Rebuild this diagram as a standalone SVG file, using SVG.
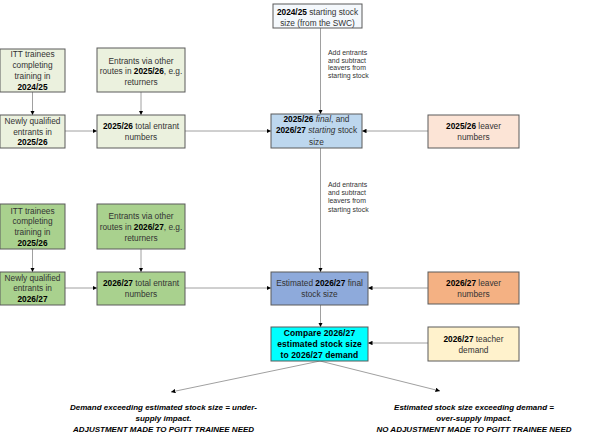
<svg xmlns="http://www.w3.org/2000/svg" width="602" height="441" viewBox="0 0 602 441">
<defs>
<marker id="ah" viewBox="0 0 10 10" refX="10" refY="5" markerWidth="4.5" markerHeight="4.5" orient="auto" markerUnits="userSpaceOnUse">
<path d="M0,0 L10,5 L0,10 z" fill="#000"/>
</marker>
<style>
.box{stroke:#5a5a5a;stroke-width:1}
.t{font-family:"Liberation Sans",Arial,sans-serif;font-size:8.3px;fill:#333;text-anchor:middle}
.t b, .b{font-weight:bold;fill:#000}
.lbl{font-family:"Liberation Sans",Arial,sans-serif;font-size:6.9px;fill:#333}
.cmp{font-family:"Liberation Sans",Arial,sans-serif;font-size:8.5px;font-weight:bold;fill:#000;text-anchor:middle;letter-spacing:0.1px}
.out{font-family:"Liberation Sans",Arial,sans-serif;font-size:8px;font-weight:bold;font-style:italic;fill:#000;text-anchor:middle}
.c{stroke:#a0a0a0;stroke-width:1;fill:none;marker-end:url(#ah)}
.g1{fill:#ebf1de}
.g2{fill:#a9d18e}
</style>
</defs>
<rect width="602" height="441" fill="#fff"/>

<g id="connectors">
<line class="c" x1="32.5" y1="92" x2="32.5" y2="115"/>
<line class="c" x1="141" y1="92" x2="141" y2="115"/>
<line class="c" x1="65" y1="131" x2="97" y2="131"/>
<line class="c" x1="185" y1="131" x2="271" y2="131"/>
<line class="c" x1="428" y1="131" x2="362" y2="131"/>
<line class="c" x1="320.5" y1="28" x2="320.5" y2="114"/>
<line class="c" x1="320.5" y1="148" x2="320.5" y2="272"/>
<line class="c" x1="32.5" y1="249" x2="32.5" y2="272"/>
<line class="c" x1="141" y1="249" x2="141" y2="272"/>
<line class="c" x1="65" y1="288" x2="97" y2="288"/>
<line class="c" x1="185" y1="288" x2="271" y2="288"/>
<line class="c" x1="428" y1="288" x2="368" y2="288"/>
<line class="c" x1="320.5" y1="305" x2="320.5" y2="327"/>
<line class="c" x1="428" y1="343" x2="368" y2="343"/>
<line class="c" x1="320" y1="361" x2="171" y2="392"/>
<line class="c" x1="320" y1="361" x2="440" y2="391"/>
<text class="lbl"><tspan x="328" y="55">Add entrants</tspan><tspan x="328" y="62.5">and subtract</tspan><tspan x="328" y="70">leavers from</tspan><tspan x="328" y="77.5">starting stock</tspan></text>
<text class="lbl"><tspan x="328" y="187">Add entrants</tspan><tspan x="328" y="195">and subtract</tspan><tspan x="328" y="203">leavers from</tspan><tspan x="328" y="211.5">starting stock</tspan></text>
</g>

<g id="start-stock">
<rect class="box" x="273" y="4" width="89" height="24" fill="#f4f8fc"/>
<text class="t"><tspan x="317.5" y="14.5"><tspan class="b">2024/25</tspan> starting stock</tspan><tspan x="317.5" y="25.5">size (from the SWC)</tspan></text>
</g>

<g id="itt-1">
<rect class="box g1" x="0" y="49" width="65" height="43"/>
<text class="t"><tspan x="32.5" y="57">ITT trainees</tspan><tspan x="32.5" y="68">completing</tspan><tspan x="32.5" y="79">training in</tspan><tspan x="32.5" y="90" class="b">2024/25</tspan></text>
</g>

<g id="other-1">
<rect class="box g1" x="97" y="48" width="88" height="44"/>
<text class="t"><tspan x="141" y="63.5">Entrants via other</tspan><tspan x="141" y="74">routes in <tspan class="b">2025/26</tspan>, e.g.</tspan><tspan x="141" y="84.5">returners</tspan></text>
</g>

<g id="nq-1">
<rect class="box g1" x="0" y="115" width="65" height="33"/>
<text class="t"><tspan x="32.5" y="123.5">Newly qualified</tspan><tspan x="32.5" y="134.5">entrants in</tspan><tspan x="32.5" y="145" class="b">2025/26</tspan></text>
</g>

<g id="total-1">
<rect class="box g1" x="97" y="115" width="88" height="33"/>
<text class="t"><tspan x="141" y="129"><tspan class="b">2025/26</tspan> total entrant</tspan><tspan x="141" y="139.5">numbers</tspan></text>
</g>

<g id="stock-1">
<rect class="box" x="271" y="114" width="91" height="34" fill="#bdd7ee"/>
<text class="t"><tspan x="316.5" y="122"><tspan class="b">2025/26</tspan> <tspan font-style="italic">final</tspan>, and</tspan><tspan x="316.5" y="133"><tspan class="b">2026/27</tspan> <tspan font-style="italic">starting</tspan> stock</tspan><tspan x="316.5" y="144.5">size</tspan></text>
</g>

<g id="leaver-1">
<rect class="box" x="428" y="115" width="91" height="33" fill="#fce4d6"/>
<text class="t"><tspan x="473.5" y="129"><tspan class="b">2025/26</tspan> leaver</tspan><tspan x="473.5" y="139.5">numbers</tspan></text>
</g>

<g id="itt-2">
<rect class="box g2" x="0" y="204" width="65" height="45"/>
<text class="t"><tspan x="32.5" y="213.5">ITT trainees</tspan><tspan x="32.5" y="224">completing</tspan><tspan x="32.5" y="234.5">training in</tspan><tspan x="32.5" y="245.5" class="b">2025/26</tspan></text>
</g>

<g id="other-2">
<rect class="box g2" x="97" y="204" width="88" height="45"/>
<text class="t"><tspan x="141" y="219">Entrants via other</tspan><tspan x="141" y="229.5">routes in <tspan class="b">2026/27</tspan>, e.g.</tspan><tspan x="141" y="240.5">returners</tspan></text>
</g>

<g id="nq-2">
<rect class="box g2" x="0" y="272" width="65" height="33"/>
<text class="t"><tspan x="32.5" y="280.5">Newly qualified</tspan><tspan x="32.5" y="291">entrants in</tspan><tspan x="32.5" y="302" class="b">2026/27</tspan></text>
</g>

<g id="total-2">
<rect class="box g2" x="97" y="272" width="88" height="33"/>
<text class="t"><tspan x="141" y="286"><tspan class="b">2026/27</tspan> total entrant</tspan><tspan x="141" y="297">numbers</tspan></text>
</g>

<g id="stock-2">
<rect class="box" x="271" y="272" width="97" height="33" fill="#8eaadb"/>
<text class="t"><tspan x="319.5" y="286">Estimated <tspan class="b">2026/27</tspan> final</tspan><tspan x="319.5" y="297">stock size</tspan></text>
</g>

<g id="leaver-2">
<rect class="box" x="428" y="272" width="91" height="32" fill="#f4b183"/>
<text class="t"><tspan x="473.5" y="286"><tspan class="b">2026/27</tspan> leaver</tspan><tspan x="473.5" y="296.5">numbers</tspan></text>
</g>

<g id="demand">
<rect class="box" x="428" y="327" width="91" height="34" fill="#fff2cc"/>
<text class="t"><tspan x="473.5" y="341.5"><tspan class="b">2026/27</tspan> teacher</tspan><tspan x="473.5" y="353">demand</tspan></text>
</g>

<g id="compare">
<rect class="box" x="271" y="327" width="97" height="34" fill="#00ffff"/>
<text class="cmp"><tspan x="319.5" y="336">Compare 2026/27</tspan><tspan x="319.5" y="347">estimated stock size</tspan><tspan x="319.5" y="358">to 2026/27 demand</tspan></text>
</g>

<g id="outcome-under">
<text class="out"><tspan x="163.5" y="410">Demand exceeding estimated stock size = under-</tspan><tspan x="163.5" y="421">supply impact.</tspan><tspan x="163.5" y="432">ADJUSTMENT MADE TO PGITT TRAINEE NEED</tspan></text>
</g>

<g id="outcome-over">
<text class="out"><tspan x="474" y="410">Estimated stock size exceeding demand =</tspan><tspan x="474" y="421">over-supply impact.</tspan><tspan x="474" y="432">NO ADJUSTMENT MADE TO PGITT TRAINEE NEED</tspan></text>
</g>
</svg>
